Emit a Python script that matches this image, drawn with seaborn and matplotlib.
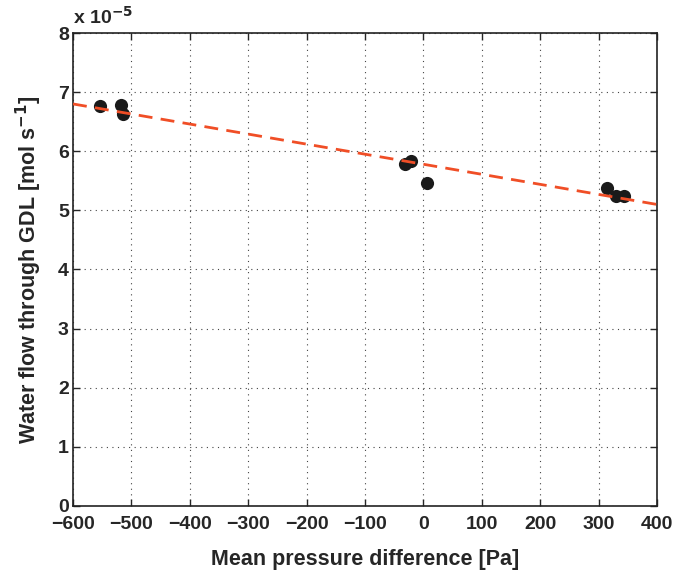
import matplotlib
matplotlib.use("Agg")
import matplotlib.pyplot as plt
import seaborn as sns
import pandas as pd

# Medições (fluxo em unidades de 1e-5 mol/s)
pressao = [-553, -518, -514, -31, -22, 6, 314, 329, 343]
fluxo = [6.76, 6.78, 6.63, 5.78, 5.84, 5.46, 5.38, 5.24, 5.24]

# Reta ajustada (extremos)
ajuste_x = [-600, 400]
ajuste_y = [6.80, 5.10]

x_ticks = [-600, -500, -400, -300, -200, -100, 0, 100, 200, 300, 400]
y_ticks = [0, 1, 2, 3, 4, 5, 6, 7, 8]

df = pd.DataFrame({"pressao": pressao, "fluxo": fluxo})
df_fit = pd.DataFrame({"x": ajuste_x, "y": ajuste_y})

sns.set_style("ticks")
plt.rcParams["font.family"] = ["Liberation Sans", "DejaVu Sans"]
plt.rcParams["font.weight"] = "bold"

fig = plt.figure(figsize=(6.89, 5.72), dpi=100)
ax = fig.add_axes([0.1060, 0.1154, 0.8476, 0.8269])

sns.lineplot(data=df_fit, x="x", y="y", ax=ax, color="#f04e26", linewidth=2,
             linestyle=(0, (5, 3)), zorder=3)
sns.scatterplot(data=df, x="pressao", y="fluxo", ax=ax, color="#1a1a1a",
                s=90, edgecolor="#1a1a1a", linewidth=0, zorder=2)

ax.set_xlim(-600, 400)
ax.set_ylim(0, 8)
ax.set_xticks(x_ticks)
ax.set_yticks(y_ticks)
ax.set_xticklabels([str(v).replace("-", "\u2212") for v in x_ticks])
ax.set_yticklabels([str(v) for v in y_ticks])
ax.grid(True, color="#444444", linestyle=(0, (1, 4)), linewidth=0.8)
ax.tick_params(direction="in", top=True, right=True, length=5, width=1,
               labelsize=14)
ax.tick_params(axis="x", pad=7)
ax.tick_params(axis="y", pad=3)
for lab in ax.get_xticklabels() + ax.get_yticklabels():
    lab.set_fontweight("bold")
for s in ax.spines.values():
    s.set_linewidth(1.2)
    s.set_color("#222222")

ax.set_xlabel("Mean pressure difference [Pa]", fontsize=15.5, fontweight="bold",
              labelpad=12)
ax.set_ylabel("Water flow through GDL [mol s$^{\\mathbf{-1}}$]", fontsize=15.5,
              fontweight="bold", labelpad=10)
ax.text(0.0, 1.01, "x 10$^{\\mathbf{-5}}$", transform=ax.transAxes, fontsize=14,
        fontweight="bold", ha="left", va="bottom")

fig.savefig("out.png", dpi=100)
